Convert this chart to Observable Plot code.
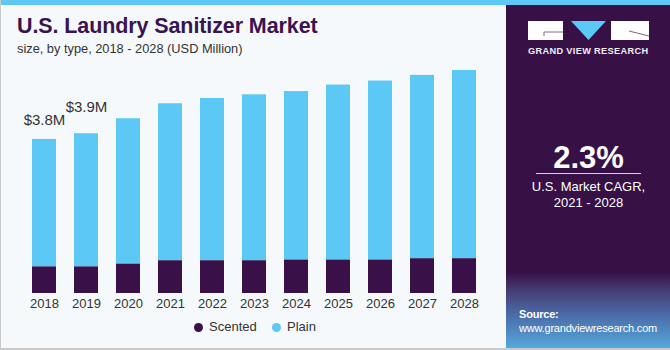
<!DOCTYPE html>
<html>
<head>
<meta charset="utf-8">
<script src="https://cdn.jsdelivr.net/npm/d3@7"></script>
<script src="https://cdn.jsdelivr.net/npm/@observablehq/plot@0.6"></script>
<style>
  html, body { margin: 0; padding: 0; background: #fff; }
  #card { position: relative; width: 670px; height: 350px; box-sizing: border-box; background: #f5f9fc;
          border-left: 1px solid #c9c9c9; border-bottom: 2px solid #c9c9c9; overflow: hidden;
          font-family: "Liberation Sans", Arial, sans-serif; }
  #strip { position: absolute; left: 0; top: 0; width: 670px; height: 5px; background: #5bc8f5; }
  #title { position: absolute; left: 16px; top: 14px; font-size: 21.5px; font-weight: bold; color: #3a1350; white-space: nowrap; letter-spacing: -0.1px; }
  #subtitle { position: absolute; left: 16px; top: 41px; font-size: 12.8px; color: #333; white-space: nowrap; }
  #chart { position: absolute; left: 0; top: 60px; }
  #legend { position: absolute; left: 0; top: 319px; width: 505px; font-size: 13px; color: #333; }
  .li { position: absolute; top: 0; white-space: nowrap; }
  .dot { display: inline-block; width: 9px; height: 9px; border-radius: 50%; vertical-align: -1px; margin-right: 6px; }
  #panel { position: absolute; left: 505px; top: 5px; width: 165px; height: 343px;
           background: linear-gradient(to bottom, #371146 0%, #371146 78%, #463a72 83%, #4a6aa6 90%, #55a8dc 100%); color: #fff; }
  #logo { position: absolute; left: 0; top: 0; }
  #gvr { position: absolute; left: 22px; top: 41px; font-size: 9.2px; font-weight: bold; letter-spacing: 0.35px; white-space: nowrap; color: #f0eef4; }
  #cagr { position: absolute; left: 0; width: 165px; top: 135px; text-align: center; font-size: 31px; font-weight: bold; }
  #rule { position: absolute; left: 30px; width: 105px; top: 168px; height: 1px; background: #d8d0de; }
  #cagrtxt { position: absolute; left: 0; width: 165px; top: 174px; text-align: center; font-size: 13px; line-height: 16px; }
  #src { position: absolute; left: 13px; top: 302px; font-size: 11px; line-height: 14px; white-space: nowrap; letter-spacing: -0.2px; }
</style>
</head>
<body>
<div id="card">
  <div id="strip"></div>
  <div id="title">U.S. Laundry Sanitizer Market</div>
  <div id="subtitle">size, by type, 2018 - 2028 (USD Million)</div>
  <div id="chart"></div>
  <div id="legend"></div>
  <div id="panel">
    <svg id="logo" width="165" height="50">
      <rect x="22" y="16" width="35" height="19" fill="#fff"/>
      <line x1="38" y1="27" x2="57" y2="27" stroke="#7a6a88" stroke-width="1"/>
      <line x1="38" y1="27" x2="38" y2="31" stroke="#7a6a88" stroke-width="1"/>
      <polygon points="65,16 100,16 82.5,35" fill="#5bc8f5"/>
      <rect x="105" y="16" width="38" height="19" fill="#fff"/>
      <line x1="123" y1="26" x2="143" y2="31" stroke="#7a6a88" stroke-width="1"/>
    </svg>
    <div id="gvr">GRAND VIEW RESEARCH</div>
    <div id="cagr">2.3%</div>
    <div id="rule"></div>
    <div id="cagrtxt">U.S. Market CAGR,<br>2021 - 2028</div>
    <div id="src"><b>Source:</b><br>www.grandviewresearch.com</div>
  </div>
</div>
<script>
const years = ["2018","2019","2020","2021","2022","2023","2024","2025","2026","2027","2028"];
const scented = [0.66, 0.66, 0.73, 0.81, 0.81, 0.81, 0.83, 0.83, 0.83, 0.86, 0.86];
const plain   = [3.14, 3.28, 3.58, 3.87, 4.00, 4.09, 4.15, 4.31, 4.41, 4.52, 4.64];
const seriesNames = ["Scented", "Plain"];
const seriesColors = ["#3a1048", "#5bc8f5"];
const labelYears = ["2018", "2019"];
const labelTexts = ["$3.8M", "$3.9M"];

const rows = [];
seriesNames.forEach((s, si) => {
  const vals = si === 0 ? scented : plain;
  years.forEach((y, i) => rows.push({year: y, type: s, value: vals[i]}));
});
const totals = years.map((y, i) => ({year: y, total: scented[i] + plain[i]}));
const lab0 = [{year: labelYears[0], total: totals[0].total, text: labelTexts[0]}];
const lab1 = [{year: labelYears[1], total: totals[1].total, text: labelTexts[1]}];

const chart = Plot.plot({
  width: 505,
  height: 255,
  marginLeft: 10,
  marginRight: 9,
  marginTop: 10,
  marginBottom: 22,
  style: {background: "transparent", fontFamily: "Liberation Sans, Arial, sans-serif", fontSize: "13px", color: "#333"},
  x: {domain: years, paddingInner: 0.4286, paddingOuter: 0.5, label: null, tickSize: 0, tickPadding: 5},
  y: {domain: [0, 5.5], axis: null},
  color: {domain: seriesNames, range: seriesColors},
  marks: [
    Plot.barY(rows, {x: "year", y: "value", fill: "type", order: seriesNames}),
    Plot.text(lab0, {x: "year", y: "total", text: "text", dy: -19, fontSize: 15, fill: "#333"}),
    Plot.text(lab1, {x: "year", y: "total", text: "text", dy: -27, fontSize: 15, fill: "#333"})
  ]
});
document.getElementById("chart").appendChild(chart);

const legend = document.getElementById("legend");
const legendX = [193, 271];
seriesNames.forEach((s, i) => {
  const el = document.createElement("div");
  el.className = "li";
  el.style.left = legendX[i] + "px";
  el.innerHTML = `<span class="dot" style="background:${seriesColors[i]}"></span>${s}`;
  legend.appendChild(el);
});
</script>
</body>
</html>
